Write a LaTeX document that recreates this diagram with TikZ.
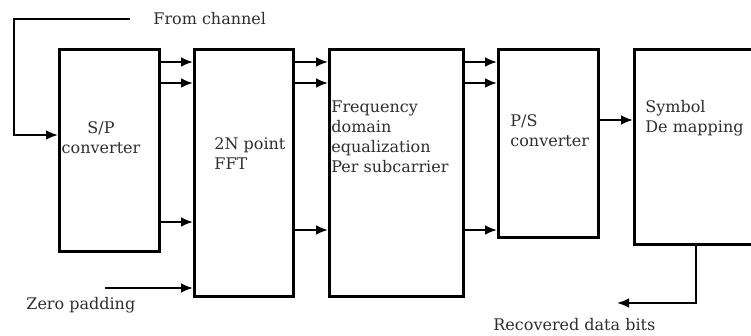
\documentclass[tikz,border=0pt]{standalone}
\usepackage{fontspec}
\setmainfont{DejaVu Serif}
\usepackage{xcolor}
\usetikzlibrary{arrows.meta}
\definecolor{txtgray}{HTML}{2E2E2E}

\begin{document}
\begin{tikzpicture}[x=0.5pt,y=-0.5pt,line width=1.4pt,
  every node/.style={font=\fontsize{8}{10}\selectfont,text=txtgray},
  blk/.style={draw,inner sep=0pt,anchor=north west},
  lbl/.style={inner sep=0pt,align=left,anchor=base west},
  arr/.style={-{Latex[length=6pt,width=5pt]}}]
  \useasboundingbox (0,0) rectangle (751,336);
  \node[blk,minimum width=50pt,minimum height=101pt] (sp) at (58,48) {};
  \node[blk,minimum width=49.5pt,minimum height=123.5pt] (fft) at (193,48) {};
  \node[blk,minimum width=67pt,minimum height=123.5pt] (feq) at (328,48) {};
  \node[blk,minimum width=50pt,minimum height=94pt] (ps) at (497,48) {};
  \node[blk,minimum width=73.5pt,minimum height=97.5pt] (sym) at (633,48) {};
  \node[lbl,align=center,anchor=base] (sptxt) at (101,154) {S/P\\converter};
  \node[lbl] (ffttxt) at (213,170) {2N point\\FFT};
  \node[lbl] (feqtxt) at (330,173) {Frequency\\domain\\equalization\\Per subcarrier};
  \node[lbl] (pstxt) at (509,147) {P/S\\converter};
  \node[lbl] (symtxt) at (644,133) {Symbol\\De mapping};
  \node[lbl] (chan) at (152,25) {From channel};
  \node[lbl] (zp) at (25,310) {Zero padding};
  \node[lbl] (rec) at (492,331) {Recovered data bits};
  \coordinate (zpin) at (105,288);
  \coordinate (rdb) at (617,303);
  \draw[arr] ([xshift=-11pt]chan.west) -- ++(-116,0) |- (sp.west |- 0,135);
  \foreach \y in {62,83} {
    \draw[arr] (sp.east |- 0,\y) -- (fft.west |- 0,\y);
    \draw[arr] (fft.east |- 0,\y) -- (feq.west |- 0,\y);
    \draw[arr] (feq.east |- 0,\y) -- (ps.west |- 0,\y);
  }
  \draw[arr] (sp.east |- 0,222) -- (fft.west |- 0,222);
  \draw[arr] (fft.east |- 0,230) -- (feq.west |- 0,230);
  \draw[arr] (feq.east |- 0,230) -- (ps.west |- 0,230);
  \draw[arr] (ps.east |- 0,120) -- (sym.west |- 0,120);
  \draw[arr] (zpin) -- (fft.west |- zpin);
  \draw[arr] (sym.south -| 696,0) |- (rdb);
\end{tikzpicture}
\end{document}
